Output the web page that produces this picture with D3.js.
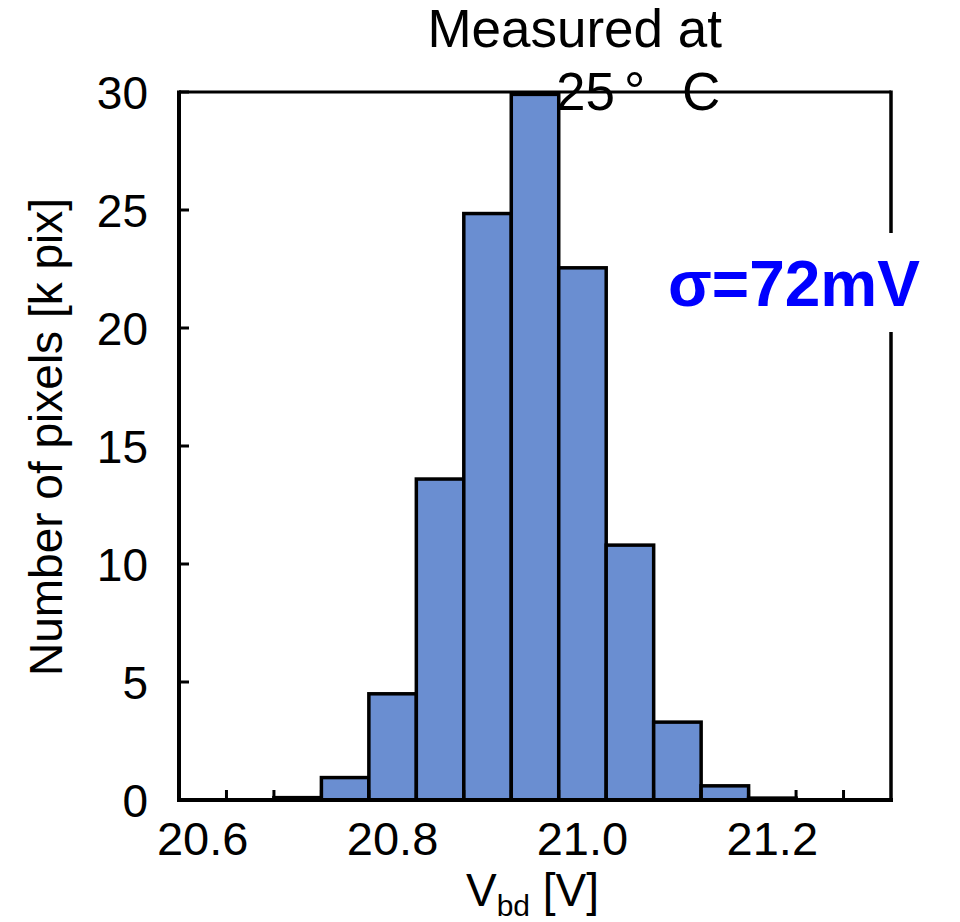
<!DOCTYPE html>
<html>
<head>
<meta charset="utf-8">
<script src="https://cdn.jsdelivr.net/npm/d3@7"></script>
<style>
  body { margin: 0; background: #fff; }
  text { font-family: "Liberation Sans", Arial, sans-serif; }
</style>
</head>
<body>
<script>
const width = 960, height = 922;

// bin centres [V] and counts [k pix]
const bins = ["20.60", "20.65", "20.70", "20.75", "20.80", "20.85", "20.90", "20.95",
              "21.00", "21.05", "21.10", "21.15", "21.20", "21.25", "21.30"];
const counts = [0, 0, 0.1, 0.95, 4.5, 13.6, 24.85, 29.9, 22.55, 10.8, 3.3, 0.6, 0.08, 0, 0];
const xTickLabels = ["20.6", "20.8", "21.0", "21.2"];
const yTicks = [0, 5, 10, 15, 20, 25, 30];

const plotL = 179, plotR = 891, plotT = 92, plotB = 800;

const svg = d3.select("body")
    .append("svg")
    .attr("width", width)
    .attr("height", height);

const x = d3.scaleBand().domain(bins).range([plotL, plotR]).padding(0);
const y = d3.scaleLinear().domain([0, 30]).range([plotB, plotT]);

// bars
svg.append("g")
    .selectAll("rect")
    .data(bins.map((b, i) => ({ bin: b, value: counts[i] })).filter(d => d.value > 0))
    .enter()
    .append("rect")
    .attr("x", d => x(d.bin))
    .attr("y", d => y(d.value))
    .attr("width", x.bandwidth())
    .attr("height", d => y(0) - y(d.value))
    .attr("fill", "#6a8ed1")
    .attr("stroke", "#000")
    .attr("stroke-width", 3.5);

// y ticks (inside)
svg.append("g")
    .selectAll("line")
    .data(yTicks)
    .enter()
    .append("line")
    .attr("x1", plotL)
    .attr("x2", plotL + 10)
    .attr("y1", d => y(d))
    .attr("y2", d => y(d))
    .attr("stroke", "#000")
    .attr("stroke-width", 3);

svg.append("g")
    .selectAll("text")
    .data(yTicks)
    .enter()
    .append("text")
    .attr("x", 148)
    .attr("y", d => y(d))
    .attr("dy", "0.36em")
    .attr("text-anchor", "end")
    .attr("font-size", 46)
    .text(d => d);

// x ticks between bins (inside)
const boundaries = d3.range(1, bins.length);
svg.append("g")
    .selectAll("line")
    .data(boundaries)
    .enter()
    .append("line")
    .attr("x1", i => x(bins[i]))
    .attr("x2", i => x(bins[i]))
    .attr("y1", plotB)
    .attr("y2", plotB - 10)
    .attr("stroke", "#000")
    .attr("stroke-width", 3);

svg.append("g")
    .selectAll("text")
    .data(xTickLabels)
    .enter()
    .append("text")
    .attr("x", d => x(d3.format(".2f")(+d)) + x.bandwidth() / 2)
    .attr("y", 855)
    .attr("text-anchor", "middle")
    .attr("font-size", 47)
    .text(d => d);

// frame
svg.append("line").attr("x1", plotL).attr("x2", plotR).attr("y1", plotT).attr("y2", plotT)
    .attr("stroke", "#000").attr("stroke-width", 3);
svg.append("line").attr("x1", plotR).attr("x2", plotR).attr("y1", plotT - 1.5).attr("y2", plotB)
    .attr("stroke", "#000").attr("stroke-width", 3.5);
svg.append("line").attr("x1", plotL).attr("x2", plotL).attr("y1", plotT - 1.5).attr("y2", plotB + 2)
    .attr("stroke", "#000").attr("stroke-width", 4);
svg.append("line").attr("x1", plotL - 2).attr("x2", plotR + 2).attr("y1", plotB).attr("y2", plotB)
    .attr("stroke", "#000").attr("stroke-width", 4);

// axis titles
svg.append("text")
    .attr("transform", "translate(62,437) rotate(-90)")
    .attr("text-anchor", "middle")
    .attr("font-size", 46)
    .text("Number of pixels [k pix]");

const xl = svg.append("text")
    .attr("x", 466)
    .attr("y", 906)
    .attr("font-size", 46);
xl.append("tspan").text("V");
xl.append("tspan").attr("font-size", 30).attr("dy", 10).text("bd");
xl.append("tspan").attr("dy", -10).text(" [V]");

// annotation: measurement temperature
svg.append("text")
    .attr("x", 722)
    .attr("y", 47)
    .attr("text-anchor", "end")
    .attr("font-size", 53)
    .text("Measured at");

const t2 = svg.append("text")
    .attr("y", 110)
    .attr("font-size", 53);
t2.append("tspan").attr("x", 556).text("25");
t2.append("tspan").attr("x", 624).text("°");
t2.append("tspan").attr("x", 682).text("C");

// sigma label with white box over the frame
svg.append("rect")
    .attr("x", 662)
    .attr("y", 233)
    .attr("width", 264)
    .attr("height", 99)
    .attr("fill", "#fff");

svg.append("text")
    .attr("x", 668)
    .attr("y", 306)
    .attr("font-size", 64)
    .attr("font-weight", "bold")
    .attr("fill", "#0000ff")
    .text("σ=72mV");
</script>
</body>
</html>
